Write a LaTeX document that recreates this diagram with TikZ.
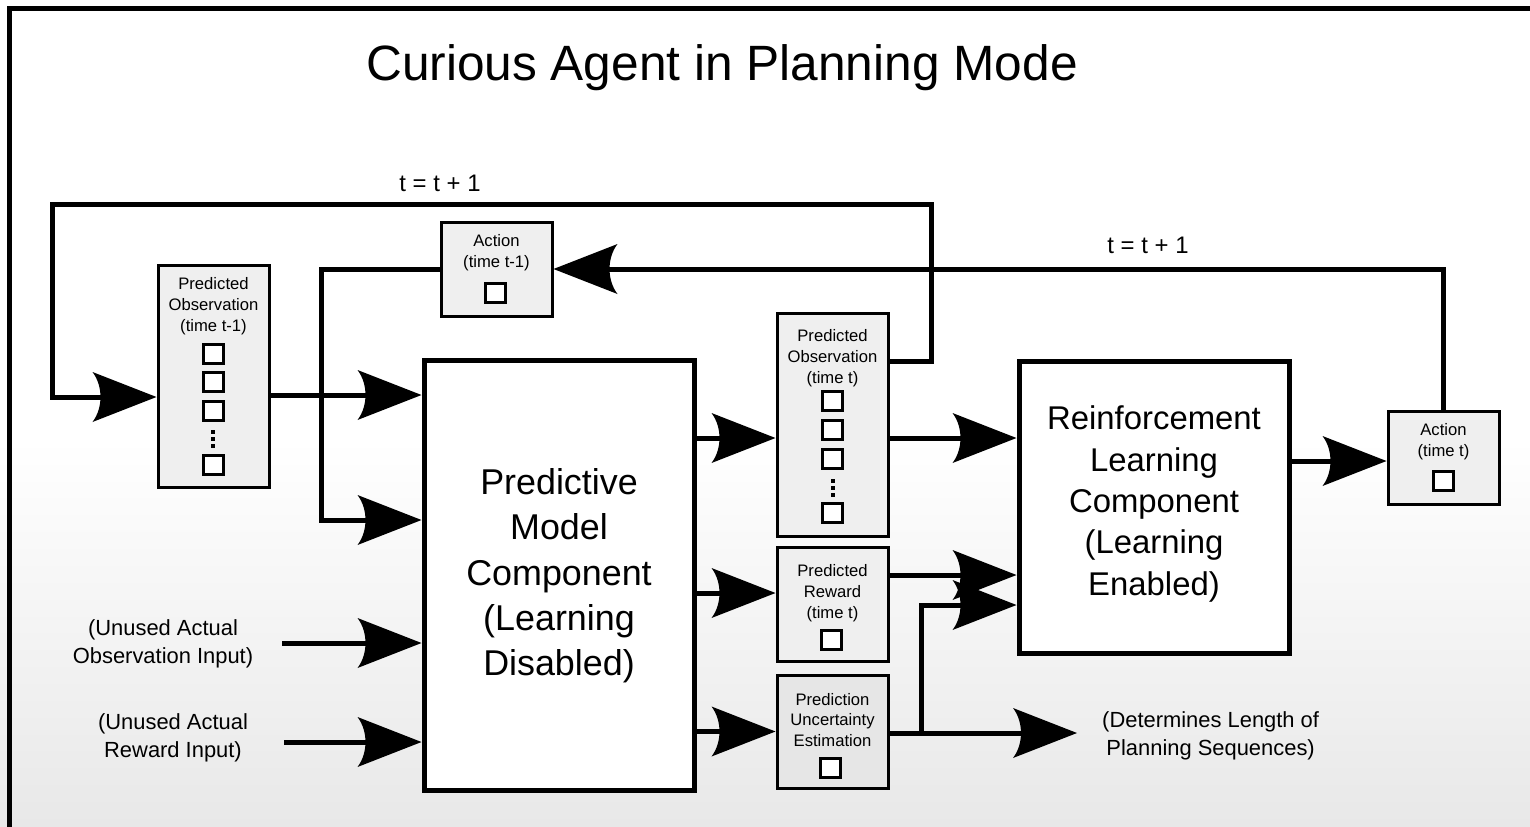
\documentclass[tikz,border=0pt]{standalone}
\usepackage{fontspec}
\setmainfont{Liberation Sans}
\usetikzlibrary{arrows.meta}
\definecolor{boxgray}{HTML}{EFEFEF}
\definecolor{boxgraydark}{HTML}{E6E6E6}
\pgfdeclarearrow{
  name = Crescent,
  parameters = {\the\pgfarrowlength,\the\pgfarrowwidth,\the\pgfarrowinset},
  setup code = {
    \pgfarrowssettipend{0pt}
    \pgfarrowssetbackend{-\pgfarrowlength}
    \pgfarrowssetlineend{-0.7\pgfarrowlength}
    \pgfarrowssavethe\pgfarrowlength
    \pgfarrowssavethe\pgfarrowwidth
    \pgfarrowssavethe\pgfarrowinset
  },
  drawing code = {
    \pgfpathmoveto{\pgfpointorigin}
    \pgfpathlineto{\pgfpoint{-\pgfarrowlength}{.5\pgfarrowwidth}}
    \pgfpathcurveto{\pgfpoint{-\pgfarrowlength+1.33\pgfarrowinset}{.22\pgfarrowwidth}}{\pgfpoint{-\pgfarrowlength+1.33\pgfarrowinset}{-.22\pgfarrowwidth}}{\pgfpoint{-\pgfarrowlength}{-.5\pgfarrowwidth}}
    \pgfpathclose
    \pgfusepathqfill
  },
  defaults = {length=64bp, width=50bp, inset=8bp}
}
\begin{document}
\begin{tikzpicture}[x=1bp,y=-1bp,
  box/.style={draw,line width=3bp,fill=boxgray,inner sep=0pt},
  bigbox/.style={draw,line width=5bp,fill=white,inner sep=0pt},
  sq/.style={draw,line width=3bp,fill=white,inner sep=0pt,minimum width=20bp,minimum height=19bp},
  arr/.style={line width=5bp,-{Crescent[length=64bp,width=50bp,inset=8bp]}},
  small/.style={font=\fontsize{16.7}{21}\selectfont,align=center,inner sep=0pt},
  mid/.style={font=\fontsize{22}{28}\selectfont,align=center,inner sep=0pt},
  dotsq/.style={fill=black},
]
\useasboundingbox (0,0) rectangle (1530,826);
\clip (0,0) rectangle (1530,826);
% background
\fill[white] (0,0) rectangle (1530,440);
\shade[top color=white,bottom color=gray!18] (0,439) rectangle (1530,826);
% outer frame
\draw[line width=5bp] (1540,8.5) -- (9.5,8.5) -- (9.5,840);

% title
\node[font=\fontsize{49.8}{60}\selectfont,inner sep=0pt] (title) at (722,68) {Curious Agent in Planning Mode};

% boxes
\node[box,minimum width=111bp,minimum height=222bp] (po1) at (213.5,376) {};
\node[small] (po1t) at (213.5,306) {Predicted\\Observation\\(time t-1)};
\node[sq] (po1s1) at (213,354) {};
\node[sq] (po1s2) at (213,382) {};
\node[sq] (po1s3) at (213,411) {};
\node[sq] (po1s4) at (213,465) {};
\foreach \yy in {432,439,446} \fill[dotsq] (211,\yy-2) rectangle (215,\yy+2);

\node[box,minimum width=111bp,minimum height=94bp] (a1) at (496.5,269) {};
\node[small] (a1t) at (496.5,253) {Action\\(time t-1)};
\node[sq] (a1s) at (495.5,293) {};

\node[bigbox,minimum width=270bp,minimum height=430bp] (pm) at (559,575) {};
\node[font=\fontsize{36}{45.5}\selectfont,align=center,inner sep=0pt] (pmt) at (559,576) {Predictive\\Model\\Component\\(Learning\\Disabled)};

\node[box,minimum width=111bp,minimum height=223bp] (po) at (832.5,424.5) {};
\node[small] (pot) at (832.5,358) {Predicted\\Observation\\(time t)};
\node[sq] (pos1) at (832.5,401) {};
\node[sq] (pos2) at (832.5,430) {};
\node[sq] (pos3) at (832.5,459) {};
\node[sq] (pos4) at (832.5,513) {};
\foreach \yy in {481,488,495} \fill[dotsq] (830.5,\yy-2) rectangle (834.5,\yy+2);

\node[box,minimum width=111bp,minimum height=114bp] (pr) at (832.5,604) {};
\node[small] (prt) at (832.5,593) {Predicted\\Reward\\(time t)};
\node[sq] (prs) at (831,640) {};

\node[box,fill=boxgraydark,minimum width=111bp,minimum height=113bp] (pu) at (832.5,731.5) {};
\node[small] (put) at (832.5,720) {Prediction\\Uncertainty\\Estimation};
\node[sq] (pus) at (830.5,768) {};

\node[bigbox,minimum width=270bp,minimum height=292bp] (rl) at (1154,507) {};
\node[font=\fontsize{33}{41.5}\selectfont,align=center,inner sep=0pt] (rlt) at (1154,504) {Reinforcement\\Learning\\Component\\(Learning\\Enabled)};

\node[box,minimum width=111bp,minimum height=93bp] (at) at (1443.5,457.5) {};
\node[small] (att) at (1443.5,441.5) {Action\\(time t)};
\node[sq] (ats) at (1443,481) {};

% free labels
\node[font=\fontsize{24}{29}\selectfont,inner sep=0pt] (tl1) at (440,183) {t = t + 1};
\node[font=\fontsize{24}{29}\selectfont,inner sep=0pt] (tl2) at (1148,245) {t = t + 1};
\node[mid] (uo) at (163,643.5) {(Unused Actual\\Observation Input)};
\node[mid] (ur) at (173,737.5) {(Unused Actual\\Reward Input)};
\node[mid,anchor=west] (det) at (1102,735.5) {(Determines Length of\\Planning Sequences)};

% helper coordinates
\coordinate (y361) at (0,361);
\coordinate (y395) at (0,395);
\coordinate (y397) at (0,397);
\coordinate (y437) at (0,438);
\coordinate (y461) at (0,461);
\coordinate (y520) at (0,520);
\coordinate (y575) at (0,575);
\coordinate (y593) at (0,593);
\coordinate (y605) at (0,605);
\coordinate (y643) at (0,643);
\coordinate (y733) at (0,733);
\coordinate (y742) at (0,742);
\coordinate (k1) at (931,361);
\coordinate (k2) at (931,204);
\coordinate (k3) at (52,204);
\coordinate (k4) at (52,397);
\coordinate (v1) at (321,269);
\coordinate (v2) at (321,520);
\coordinate (u1) at (921,733);
\coordinate (u2) at (921,605);
\coordinate (uoin) at (282,643);
\coordinate (urin) at (284,742);

% connectors
\draw[arr] (po.east |- y361) -- (k1) -- (k2) -- (k3) -- (k4) -- (po1.west |- y397);
\draw[arr] (po1.east |- y395) -- (pm.west |- y395);
\draw[arr] (a1.west) -- (v1) -- (v2) -- (pm.west |- y520);
\draw[arr] (at.north) -- (at.north |- a1.east) -- (a1.east);
\draw[arr] (pm.east |- y437) -- (po.west |- y437);
\draw[arr] (pm.east |- y593) -- (pr.west |- y593);
\draw[arr] (pm.east |- pu.west) -- (pu.west);
\draw[arr] (po.east |- y437) -- (rl.west |- y437);
\draw[arr] (pr.east |- y575) -- (rl.west |- y575);
\draw[arr] (pu.east |- y733) -- (u1) -- (u2) -- (rl.west |- y605);
\draw[arr,shorten >=25bp] (pu.east |- y733) -- (det.west |- y733);
\draw[arr] (rl.east |- y461) -- (at.west |- y461);
\draw[arr] (uoin) -- (pm.west |- y643);
\draw[arr] (urin) -- (pm.west |- y742);
\end{tikzpicture}
\end{document}
